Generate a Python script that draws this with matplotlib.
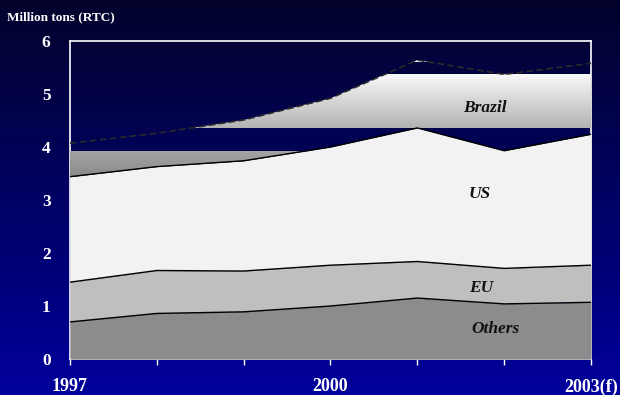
import numpy as np
import matplotlib
matplotlib.use("Agg")
import matplotlib.pyplot as plt
from matplotlib.colors import to_rgb

# Sugar production, million tons raw value
years = [1997, 1998, 1999, 2000, 2001, 2002, 2003]
others = [0.70, 0.86, 0.89, 1.00, 1.15, 1.04, 1.07]
eu = [0.75, 0.81, 0.77, 0.77, 0.69, 0.67, 0.70]
us = [1.99, 1.96, 2.08, 2.23, 2.52, 2.22, 2.47]
brazil = [0.63, 0.63, 0.77, 0.92, 1.28, 1.44, 1.34]
series_names = ["Others", "EU", "US", "Brazil"]
x_labels = {1997: "1997", 2000: "2000", 2003: "2003(f)"}
y_ticks = [0, 1, 2, 3, 4, 5, 6]

x = np.array(years, dtype=float)
lvl1 = np.array(others)
lvl2 = lvl1 + np.array(eu)
lvl3 = lvl2 + np.array(us)
lvl4 = lvl3 + np.array(brazil)

serif = ["Liberation Serif", "DejaVu Serif"]

fig = plt.figure(figsize=(6.2, 3.95), dpi=100)

# navy gradient backdrop
bg = fig.add_axes([0, 0, 1, 1], zorder=-10)
bg.axis("off")
top_c = np.array(to_rgb("#03032c"))
bot_c = np.array(to_rgb("#00009c"))
t = np.linspace(0, 1, 400)[:, None, None]
bg_img = top_c * (1 - t) + bot_c * t
bg.imshow(np.repeat(bg_img, 2, axis=1), aspect="auto", extent=[0, 1, 0, 1])

ax = fig.add_axes([0.1129, 0.0911, 0.8403, 0.8051])
ax.set_facecolor("none")
ax.set_xlim(1997, 2003)
ax.set_ylim(0, 6)

ax.fill_between(x, 0, lvl1, color="#8c8c8c", lw=0, zorder=2)
ax.fill_between(x, lvl1, lvl2, color="#bfbfbf", lw=0, zorder=2)
ax.fill_between(x, lvl2, lvl3, color="#f2f2f2", lw=0, zorder=2)
poly = ax.fill_between(x, lvl3, lvl4, facecolor="none", lw=0, zorder=2)

# banded gradient fill for the top layer
ny = 1200
yy = np.linspace(0, 6, ny)
img = np.zeros((ny, 2, 4))
for i, yv in enumerate(yy):
    if 4.34 <= yv <= 5.36:
        f = (yv - 4.34) / 1.02
        c = np.array(to_rgb("#b2b2b2")) * (1 - f) + np.array(to_rgb("#f9f9f9")) * f
        img[i, :, :3] = c
        img[i, :, 3] = 1
    elif yv <= 3.91:
        f = np.clip((yv - 3.40) / 0.51, 0, 1)
        c = np.array(to_rgb("#888888")) * (1 - f) + np.array(to_rgb("#a4a4a4")) * f
        img[i, :, :3] = c
        img[i, :, 3] = 1
    elif yv >= 5.58:
        img[i, :, :3] = 1
        img[i, :, 3] = 1
im = ax.imshow(img, extent=[1997, 2003, 0, 6], origin="lower", aspect="auto",
               interpolation="nearest", zorder=2)
im.set_clip_path(poly.get_paths()[0], transform=ax.transData)

ax.plot(x, lvl1, color="black", lw=1.0, zorder=3)
ax.plot(x, lvl2, color="black", lw=1.0, zorder=3)
ax.plot(x, lvl3, color="black", lw=1.0, zorder=3)
ax.plot(x, lvl4, color="#2a2a2a", lw=1.2, ls=(0, (4, 2)), zorder=3)

label_pos = [(2001.9, 0.57), (2001.73, 1.34), (2001.72, 3.11), (2001.78, 4.74)]
for name, (lx, ly) in zip(series_names, label_pos):
    ax.text(lx, ly, name, ha="center", va="center", fontsize=12.5,
            fontweight="bold", fontstyle="italic", family=serif,
            color="#111111", zorder=4)

for s in ax.spines.values():
    s.set_color("white")
    s.set_linewidth(1.2)
    s.set_zorder(1)

ax.set_yticks(y_ticks)
ax.set_yticklabels([str(v) for v in y_ticks])
ax.set_xticks(years)
ax.set_xticklabels([x_labels.get(y, "") for y in years])
ax.tick_params(axis="y", length=0, pad=14, colors="white", labelsize=12.5)
ax.tick_params(axis="x", length=4, width=1, direction="out", pad=10,
               colors="white", labelsize=13)
for lab in ax.get_xticklabels() + ax.get_yticklabels():
    lab.set_family(serif)
    lab.set_fontweight("bold")
    lab.set_color("white")

fig.text(7 / 620, 1 - 17 / 395, "Million tons (RTC)", ha="left", va="center",
         fontsize=9.5, fontweight="bold", family=serif, color="white")

fig.savefig("out.png", dpi=100)
